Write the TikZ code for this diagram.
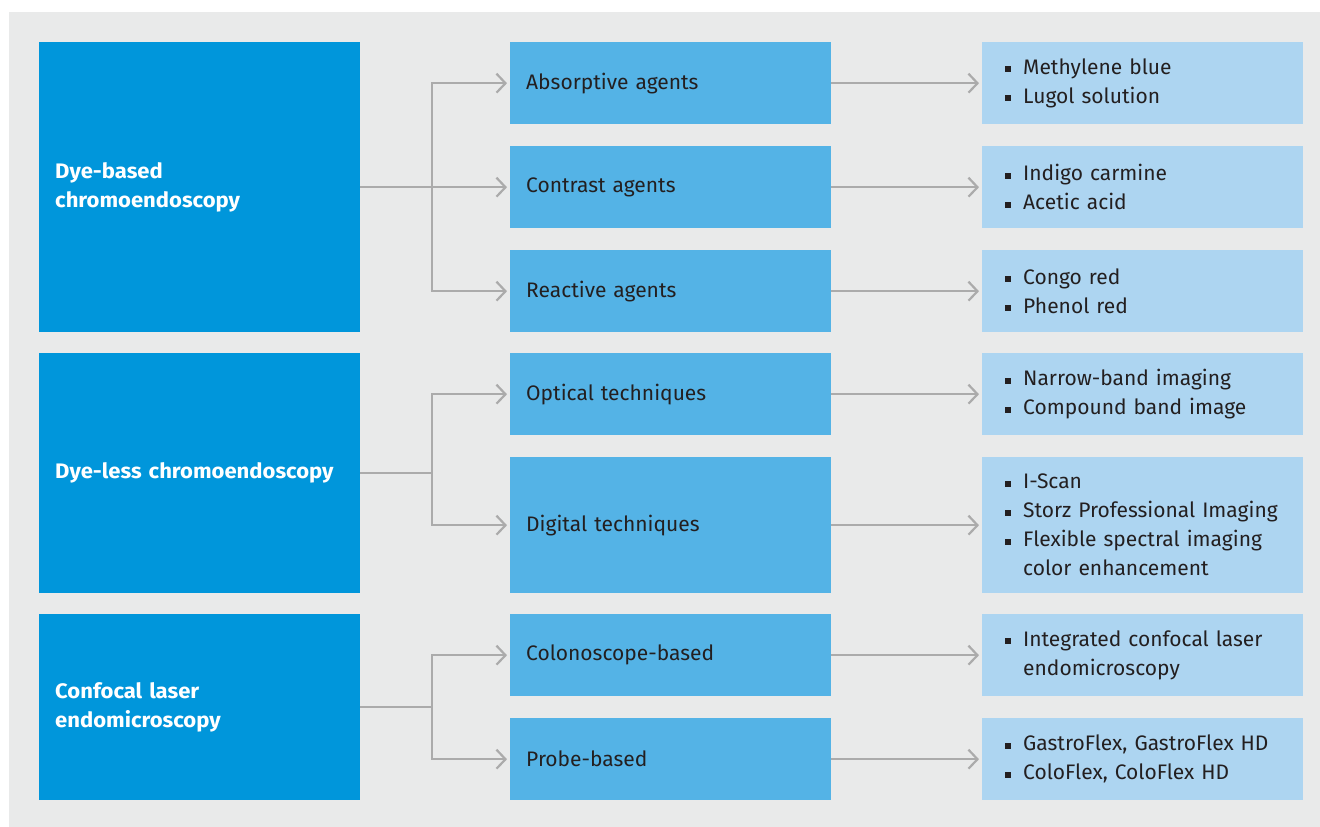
\documentclass[tikz,border=0pt]{standalone}
\usepackage{fontspec}
\setmainfont{Fira Sans}[BoldFeatures={FakeStretch=1.05}]
\usetikzlibrary{arrows.meta}
\definecolor{bgc}{HTML}{E9EAEA}
\definecolor{lc}{HTML}{0096DB}
\definecolor{mc}{HTML}{54B3E6}
\definecolor{rc}{HTML}{ADD5F1}
\definecolor{txt}{HTML}{231F20}
\definecolor{con}{HTML}{ABABAB}
\newcommand{\itm}[1]{\makebox[18pt][l]{\raisebox{2pt}{\rule{6pt}{6pt}}}#1}
\newcommand{\cnt}{\hspace*{18pt}}
\begin{document}
\begin{tikzpicture}[x=1pt,y=-1pt,
  every node/.style={font=\fontsize{21}{29}\selectfont},
  lbox/.style={draw=none,fill=lc,text=white,anchor=north west,minimum width=321pt,
    inner xsep=16pt,text width=289pt,align=left,font=\fontsize{21}{29}\selectfont\bfseries},
  mbox/.style={fill=mc,text=txt,anchor=north west,minimum width=321pt,
    inner xsep=16pt,text width=289pt,align=left},
  rbox/.style={fill=rc,anchor=north west,minimum width=321pt},
  rtext/.style={anchor=west,text=txt,inner sep=0pt,text width=290pt,align=left,xshift=23pt},
  link/.style={draw=con,line width=2.2pt},
  arr/.style={link,-{Straight Barb[length=9pt,width=19pt,line width=2.2pt]},shorten >=3pt}
]
\useasboundingbox (0,0) rectangle (1320,827);
\fill[white] (0,0) rectangle (1320,827);
\fill[bgc] (9,12) rectangle (1320,827);

% left column
\node[lbox,minimum height=290pt] (L1) at (39,42) {Dye-based\\chromoendoscopy};
\node[lbox,minimum height=240pt] (L2) at (39,353) {Dye-less chromoendoscopy};
\node[lbox,minimum height=186pt] (L3) at (39,614) {Confocal laser\\endomicroscopy};

% middle column
\node[mbox,minimum height=82pt] (M1) at (510,42) {Absorptive agents};
\node[mbox,minimum height=82pt] (M2) at (510,146) {Contrast agents};
\node[mbox,minimum height=82pt] (M3) at (510,250) {Reactive agents};
\node[mbox,minimum height=82pt] (M4) at (510,353) {Optical techniques};
\node[mbox,minimum height=136pt] (M5) at (510,457) {Digital techniques};
\node[mbox,minimum height=82pt] (M6) at (510,614) {Colonoscope-based};
\node[mbox,minimum height=82pt] (M7) at (510,718) {Probe-based};

% right column
\node[rbox,minimum height=82pt] (R1) at (982,42) {};
\node[rbox,minimum height=82pt] (R2) at (982,146) {};
\node[rbox,minimum height=82pt] (R3) at (982,250) {};
\node[rbox,minimum height=82pt] (R4) at (982,353) {};
\node[rbox,minimum height=136pt] (R5) at (982,457) {};
\node[rbox,minimum height=82pt] (R6) at (982,614) {};
\node[rbox,minimum height=82pt] (R7) at (982,718) {};

\node[rtext] (T1) at (R1.west) {\itm{Methylene blue}\\\itm{Lugol solution}};
\node[rtext] (T2) at (R2.west) {\itm{Indigo carmine}\\\itm{Acetic acid}};
\node[rtext] (T3) at (R3.west) {\itm{Congo red}\\\itm{Phenol red}};
\node[rtext] (T4) at (R4.west) {\itm{Narrow-band imaging}\\\itm{Compound band image}};
\node[rtext] (T5) at (R5.west) {\itm{I-Scan}\\\itm{Storz Professional Imaging}\\\itm{Flexible spectral imaging}\\\cnt color enhancement};
\node[rtext] (T6) at (R6.west) {\itm{Integrated confocal laser}\\\cnt endomicroscopy};
\node[rtext] (T7) at (R7.west) {\itm{GastroFlex, GastroFlex HD}\\\itm{ColoFlex, ColoFlex HD}};

% connectors
\coordinate (J1) at (432,187);
\coordinate (J2) at (432,473);
\coordinate (J3) at (432,707);
\draw[link] (L1.east |- J1) -- (J1);
\draw[link] (L2.east |- J2) -- (J2);
\draw[link] (L3.east |- J3) -- (J3);
\draw[arr] (J1) |- (M1.west);
\draw[arr] (J1) |- (M2.west);
\draw[arr] (J1) |- (M3.west);
\draw[arr] (J2) |- (M4.west);
\draw[arr] (J2) |- (M5.west);
\draw[arr] (J3) |- (M6.west);
\draw[arr] (J3) |- (M7.west);
\foreach \i in {1,...,7}{
  \draw[arr] (M\i.east) -- (R\i.west);
}
\end{tikzpicture}
\end{document}
